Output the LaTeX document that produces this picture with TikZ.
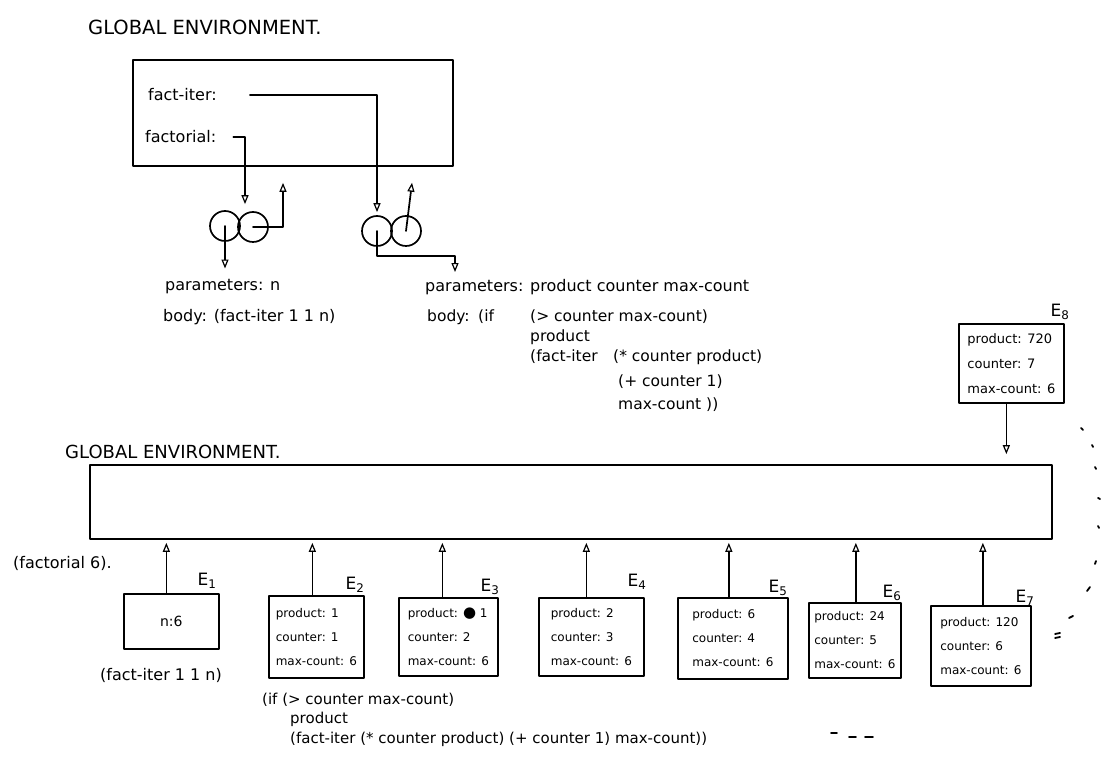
\documentclass[tikz,border=0pt]{standalone}
\usepackage{fontspec}
\setmainfont{DejaVu Sans}
\usetikzlibrary{arrows.meta,calc}
\begin{document}
\begin{tikzpicture}[x=1pt,y=1pt,
  ink/.style={line width=1.7pt, line cap=round, line join=round},
  ptr/.style={ink, -{Triangle[open, length=9pt, width=7pt, line width=1.2pt]}},
  envbox/.style={draw, ink, inner sep=0pt},
  frame/.style={draw, ink, anchor=north west, inner xsep=4pt, inner ysep=2pt,
    align=left, font=\fontsize{12}{24}\selectfont},
  title/.style={anchor=west, inner sep=2pt},
  hand/.style={anchor=west, inner sep=3pt, font=\fontsize{16}{19}\selectfont},
  code/.style={anchor=west, inner sep=3pt, font=\fontsize{15.5}{19}\selectfont},
  elabel/.style={inner sep=0pt, font=\fontsize{17}{20}\selectfont},
  bind/.style={circle, draw, ink, minimum size=30pt, inner sep=0pt},
  speck/.style={line width=1.8pt, line cap=round}
]
\useasboundingbox (0,0) rectangle (1115,775);

% ---------- global environment with the two procedure bindings ----------
\node[title, font=\fontsize{19.5}{23}\selectfont] (t1) at (86,748) {GLOBAL ENVIRONMENT.};
\node[envbox, minimum width=320pt, minimum height=106pt] (gtop) at (293,662) {};
\node[hand] (fi) at (145,680) {fact-iter:};
\node[hand] (fl) at (142,638) {factorial:};

% procedure objects (code pointer + environment pointer)
\node[bind] (c1a) at (225,549) {};
\node[bind] (c1b) at (253,548) {};
\node[bind] (c2a) at (377,544) {};
\node[bind] (c2b) at (406,544) {};

% parameter / body texts
\node[hand] (p1) at (162,488) {parameters: n};
\node[hand] (b1) at (160,458) {body: (fact-iter 1 1 n)};
\node[hand] (p2) at (422,488) {parameters: product counter max-count};
\node[code] (b2a) at (424,458) {body:};
\node[code] (b2b) at (475,458) {(if};
\node[code] (b2c) at (527,458) {(> counter max-count)};
\node[code] (b2d) at (527,438) {product};
\node[code] (b2e) at (527,418) {(fact-iter};
\node[code] (b2f) at (610,418) {(* counter product)};
\node[code] (b2g) at (615,393) {(+ counter 1)};
\node[code] (b2h) at (615,370) {max-count ))};

% pointers
\draw[ptr, shorten <=30pt, shorten >=3pt] (fi.east) -| (c2a.north);
\draw[ptr, shorten <=14pt, shorten >=7pt] (fl.east) -| ([xshift=-8pt]c1b.north);
\draw[ptr, shorten >=16pt] (c1b.center) -| ($(gtop.south)+(-10,0)$);
\draw[ptr, shorten >=16pt] (c2b.center) -- ($(c2b.center |- gtop.south)+(8,0)$);
\draw[ptr, shorten >=8pt] (c1a.center) -- (c1a.center |- p1.north);
\draw[ptr, shorten >=4pt] (c2a.center) -- ++(0,-25) -| ($(p2.north west)+(33,0)$);

% ---------- evaluation of (factorial 6) ----------
\node[title, font=\fontsize{18}{22}\selectfont] (t2) at (63,323) {GLOBAL ENVIRONMENT.};
\node[envbox, minimum width=962pt, minimum height=74pt] (ge) at (571,273) {};

\node[frame, minimum width=105pt, minimum height=79pt, font=\fontsize{13}{25}\selectfont]
  (e8) at (958,452) {product: 720\\counter: 7\\max-count: 6};
\node[elabel] (l8) at (1060,463) {E\textsubscript{8}};
\draw[ptr, shorten >=10pt] ($(e8.south)+(-5,0)$) -- ($(e8.south |- ge.north)+(-5,0)$);

\node[hand] (call) at (10,212) {(factorial 6).};

\node[frame, align=center, minimum width=95pt, minimum height=55pt, font=\fontsize{14}{17}\selectfont]
  (e1) at (123,182) {n:6};
\node[frame, minimum width=95pt, minimum height=82pt] (e2) at (268,180) {product: 1\\counter: 1\\max-count: 6};
\node[frame, minimum width=99pt, minimum height=78pt] (e3) at (398,178)
  {product: {\fontsize{15}{15}\selectfont ●} 1\\counter: 2\\max-count: 6};
\node[frame, minimum width=105pt, minimum height=78pt] (e4) at (538,178) {product: 2\\counter: 3\\max-count: 6};
\node[frame, minimum width=110pt, minimum height=81pt] (e5) at (677,178) {product: 6\\counter: 4\\max-count: 6};
\node[frame, minimum width=92pt, minimum height=75pt] (e6) at (808,173) {product: 24\\counter: 5\\max-count: 6};
\node[frame, minimum width=100pt, minimum height=80pt] (e7) at (930,170) {product: 120\\counter: 6\\max-count: 6};

\node[elabel] (l1) at (207,194) {E\textsubscript{1}};
\node[elabel] (l2) at (355,190) {E\textsubscript{2}};
\node[elabel] (l3) at (490,188) {E\textsubscript{3}};
\node[elabel] (l4) at (637,193) {E\textsubscript{4}};
\node[elabel] (l5) at (778,187) {E\textsubscript{5}};
\node[elabel] (l6) at (892,182) {E\textsubscript{6}};
\node[elabel] (l7) at (1025,177) {E\textsubscript{7}};

% frames point to the global environment
\foreach \f/\dx in {e1/-5, e2/-4, e3/-6, e4/-5, e5/-4, e6/1, e7/2}
  \draw[ptr, shorten >=3pt] ($(\f.north)+(\dx,0)$) -- ($(\f.north |- ge.south)+(\dx,0)$);

\node[hand] (b1call) at (97,100) {(fact-iter 1 1 n)};
\node[code, font=\fontsize{15}{19}\selectfont] (k1) at (259,75) {(if (> counter max-count)};
\node[code, font=\fontsize{15}{19}\selectfont] (k2) at (287,56) {product};
\node[code, font=\fontsize{15}{19}\selectfont] (k3) at (287,36)
  {(fact-iter (* counter product) (+ counter 1) max-count))};

% stray pen marks
\draw[speck] (1081,347) -- (1083,345);
\draw[speck] (1092,330) -- (1093,328);
\draw[speck] (1095,308) -- (1096,306);
\draw[speck] (1098,277) -- (1100,276);
\draw[speck] (1098,249) -- (1099,247);
\draw[speck] (1095,211) -- (1096,214);
\draw[speck] (1087,184) -- (1090,188);
\draw[speck] (1069,157) -- (1073,159);
\draw[speck] (1055,141) -- (1060,142);
\draw[speck] (1055,137) -- (1060,138);
\draw[speck] (831,42) -- (837,42);
\draw[speck] (849,38) -- (856,38);
\draw[speck] (865,38) -- (873,38);
\end{tikzpicture}
\end{document}
